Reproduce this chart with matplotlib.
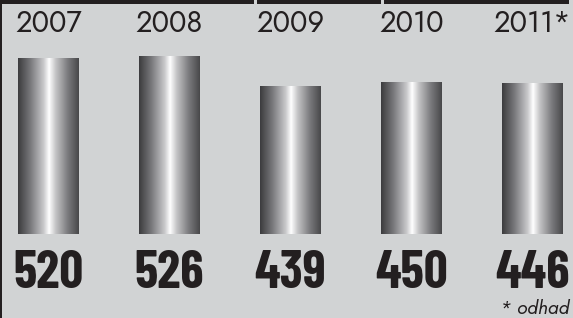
import matplotlib
matplotlib.use("Agg")
import matplotlib.pyplot as plt
import numpy as np
from matplotlib.colors import LinearSegmentedColormap
from matplotlib.patches import Rectangle

# data
years = ["2007", "2008", "2009", "2010", "2011*"]
values = [520, 526, 439, 450, 446]
note = "* odhad"

W, H = 573, 318
bg = "#d1d3d4"
ink = "#231f20"

fig = plt.figure(figsize=(W / 100, H / 100), dpi=100, facecolor=bg)

# top black strip with two small white gaps
for x0, x1 in [(0, 254), (257, 381), (384, 569)]:
    fig.patches.append(Rectangle((x0 / W, 1 - 4 / H), (x1 - x0) / W, 4 / H,
                                 transform=fig.transFigure, color=ink, lw=0))
# left border
fig.patches.append(Rectangle((0, 0), 2 / W, 1, transform=fig.transFigure,
                             color=ink, lw=0))

# axes holding the bars: baseline at 234 px from top
ax = fig.add_axes([0, (H - 234) / H, 1, 184 / H])
ax.set_facecolor("none")
ax.axis("off")
x = np.arange(len(years))
left_c, right_c = 48.5, 532.5
step = (right_c - left_c) / (len(years) - 1)

cmap = LinearSegmentedColormap.from_list(
    "metal",
    [(0.0, "#3c3c3e"), (0.2, "#77777a"), (0.42, "#c8c8ca"), (0.51, "#ffffff"),
     (0.62, "#c4c4c6"), (0.82, "#7a7a7d"), (1.0, "#48484a")])
grad = np.linspace(0, 1, 256).reshape(1, -1)

bw = 0.504
bars = ax.bar(x, values, bw, color="none", lw=0)
for b in bars:
    im = ax.imshow(grad, cmap=cmap, aspect="auto",
                   extent=[b.get_x(), b.get_x() + b.get_width(), 0, b.get_height()],
                   zorder=2)
    im.set_clip_path(b)
ax.set_xlim(-left_c / step, (W - left_c) / step)
ax.set_ylim(0, 544)

# year labels and value labels
tr = matplotlib.transforms.blended_transform_factory(ax.transData, fig.transFigure)
for xi, yr, v in zip(x, years, values):
    ax.text(xi, 1 - 32 / H, yr, transform=tr, ha="center", va="baseline",
            fontsize=21, family="Jost", fontweight="medium", color=ink)
    ax.text(xi, 1 - 288 / H, str(v), transform=tr, ha="center", va="baseline",
            fontsize=38, family="Barlow Condensed", fontweight="bold",
            color=ink)

fig.text(569 / W, 1 - 314 / H, note, ha="right", va="baseline", fontsize=14,
         family="Jost", style="italic", color=ink)

fig.savefig("out.png", dpi=100, facecolor=bg)
